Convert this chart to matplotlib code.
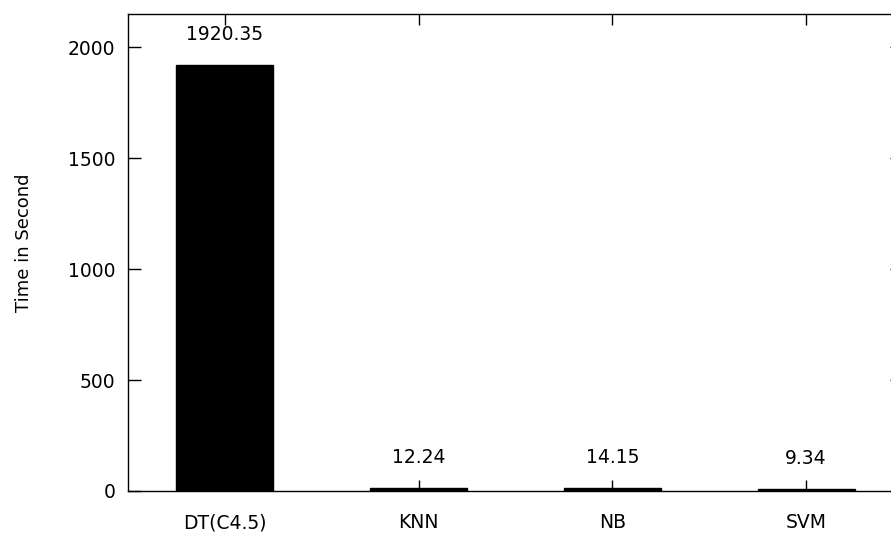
import matplotlib
matplotlib.use("Agg")
import matplotlib.pyplot as plt

categories = ["DT(C4.5)", "KNN", "NB", "SVM"]
times = [1920.35, 12.24, 14.15, 9.34]
value_labels = ["1920.35", "12.24", "14.15", "9.34"]
y_ticks = [0, 500, 1000, 1500, 2000]

plt.rcParams["font.family"] = ["DejaVu Sans"]

fig = plt.figure(figsize=(8.91, 5.36), dpi=100)
ax = fig.add_axes([128 / 891, 45 / 536, 775 / 891, 477 / 536])

x = range(len(categories))
ax.bar(x, times, width=0.5, color="black", edgecolor="black", linewidth=1)

for xi, v, lab in zip(x, times, value_labels):
    ax.annotate(lab, (xi, v), xytext=(0, 22), textcoords="offset points",
                ha="center", va="center", fontsize=13.5)

ax.set_xlim(-0.5, 3.5)
ax.set_ylim(0, 2150)
ax.set_xticks(list(x))
ax.set_xticklabels(categories, fontsize=13.5)
ax.set_yticks(y_ticks)
ax.set_yticklabels([str(t) for t in y_ticks], fontsize=13.5)
ax.tick_params(axis="both", direction="in", top=True, right=True, width=1, color="black")
ax.tick_params(axis="y", length=9.5, pad=9)
ax.tick_params(axis="x", length=8, pad=16)
for s in ax.spines.values():
    s.set_linewidth(1)
    s.set_color("black")

ax.set_ylabel("Time in Second", fontsize=13)
ax.yaxis.set_label_coords(-0.1226, 0.52)

fig.savefig("out.png", dpi=100)
